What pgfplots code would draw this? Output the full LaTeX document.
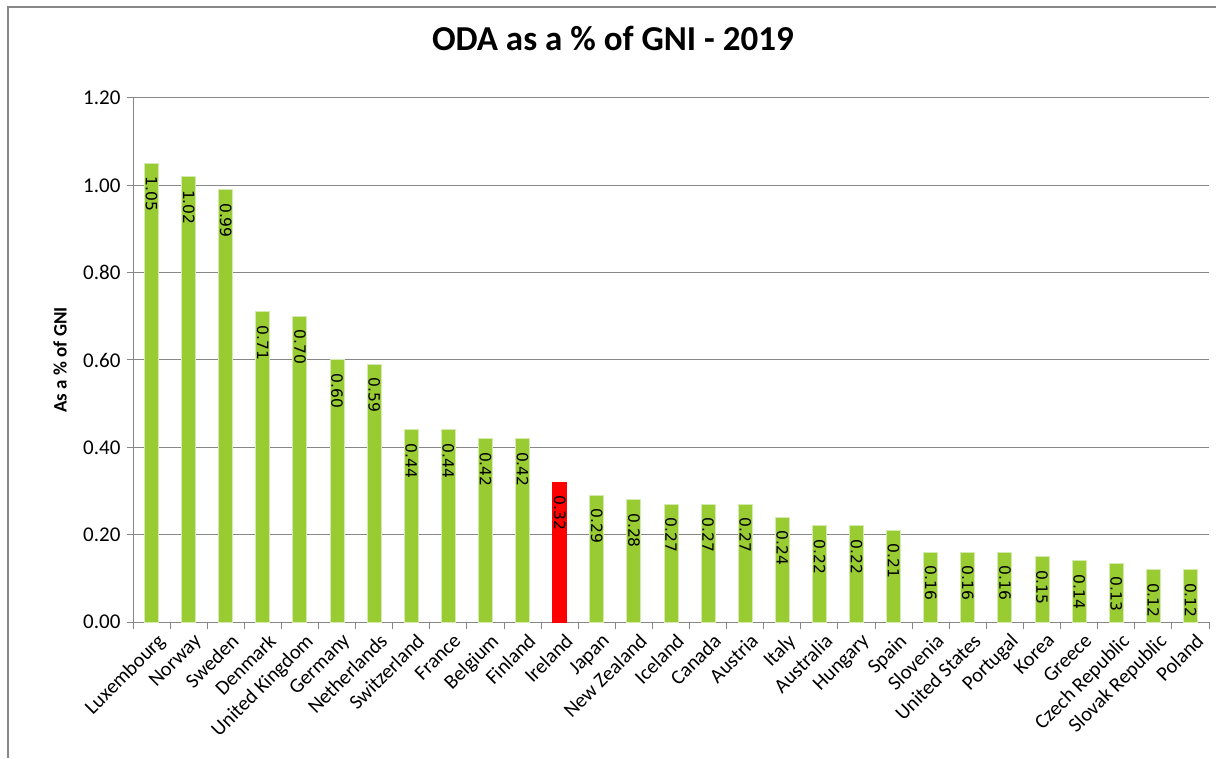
\documentclass[border=0pt]{standalone}
\usepackage{fontspec}
\setmainfont{Carlito}
\newfontfamily\dejavu{DejaVu Sans}
\usepackage{pgfplots}
\usepackage{pgfplotstable}
\pgfplotsset{compat=1.18}
\definecolor{barg}{HTML}{99CC33}
\definecolor{baredge}{HTML}{D4EBB0}
\definecolor{gridc}{HTML}{878787}

\pgfplotstableread{
x y
0 1.05
1 1.02
2 0.99
3 0.71
4 0.70
5 0.60
6 0.59
7 0.44
8 0.44
9 0.42
10 0.42
12 0.29
13 0.28
14 0.27
15 0.27
16 0.27
17 0.24
18 0.22
19 0.22
20 0.21
21 0.16
22 0.16
23 0.16
24 0.15
25 0.14
26 0.134
27 0.12
28 0.12
}\greendata
\pgfplotstableread{
x y
11 0.32
}\reddata

\begin{document}
\begin{tikzpicture}
\useasboundingbox (0,0) rectangle (1216pt,758pt);
\fill[white] (0,0) rectangle (1216pt,758pt);
\draw[gridc, line width=1.5pt] (8pt,0pt) -- (8pt,751pt) -- (1216pt,751pt);
\begin{axis}[
  at={(133pt,136pt)}, anchor=south west,
  scale only axis, width=1076pt, height=524pt,
  xmin=-0.5, xmax=28.5, ymin=0, ymax=1.2,
  ybar, bar width=14pt,
  /pgf/number format/assume math mode=true,
  axis x line*=bottom, axis y line*=left,
  axis line style={gridc, line width=1pt},
  ymajorgrids, grid style={gridc, line width=1pt},
  tick align=outside,
  ytick={0,0.2,0.4,0.6,0.8,1.0,1.2},
  major tick length=6pt, minor tick length=7pt,
  every major y tick/.style={gridc, line width=1pt},
  major x tick style={draw=none},
  minor x tick style={gridc, line width=1pt},
  xtick={0,...,28},
  minor xtick={-0.5,0.5,...,28.5},
  xticklabels={Luxembourg,Norway,Sweden,Denmark,United Kingdom,Germany,Netherlands,Switzerland,France,Belgium,Finland,Ireland,Japan,New Zealand,Iceland,Canada,Austria,Italy,Australia,Hungary,Spain,Slovenia,United States,Portugal,Korea,Greece,Czech Republic,Slovak Republic,Poland},
  xticklabel style={rotate=45, anchor=north east, inner sep=2pt, yshift=-4pt, xshift=2pt, font=\fontsize{20.5}{24}\selectfont},
  yticklabel style={xshift=-3pt, font=\fontsize{21}{24}\selectfont, /pgf/number format/.cd, fixed, fixed zerofill, precision=2},
  ylabel={As a \% of GNI},
  ylabel style={at={(axis description cs:-0.0678,0.5)}, anchor=center, font=\bfseries\fontsize{19}{22}\selectfont},
  title={ODA as a \% of GNI - 2019},
  title style={at={(axis description cs:0.446,1.103)}, anchor=center, font=\bfseries\fontsize{35}{40}\selectfont},
  nodes near coords={\pgfmathprintnumber[fixed,fixed zerofill,precision=2]{\pgfplotspointmeta}},
  nodes near coords style={rotate=-90, anchor=west, inner xsep=13pt, inner ysep=0pt, font=\dejavu\fontsize{15.5}{18}\selectfont, text=black},
]
\addplot[fill=barg, draw=baredge, line width=1pt, bar shift=0pt] table[x=x, y=y] {\greendata};
\addplot[fill=red, draw=red, line width=1pt, bar shift=0pt] table[x=x, y=y] {\reddata};
\end{axis}
\end{tikzpicture}
\end{document}
